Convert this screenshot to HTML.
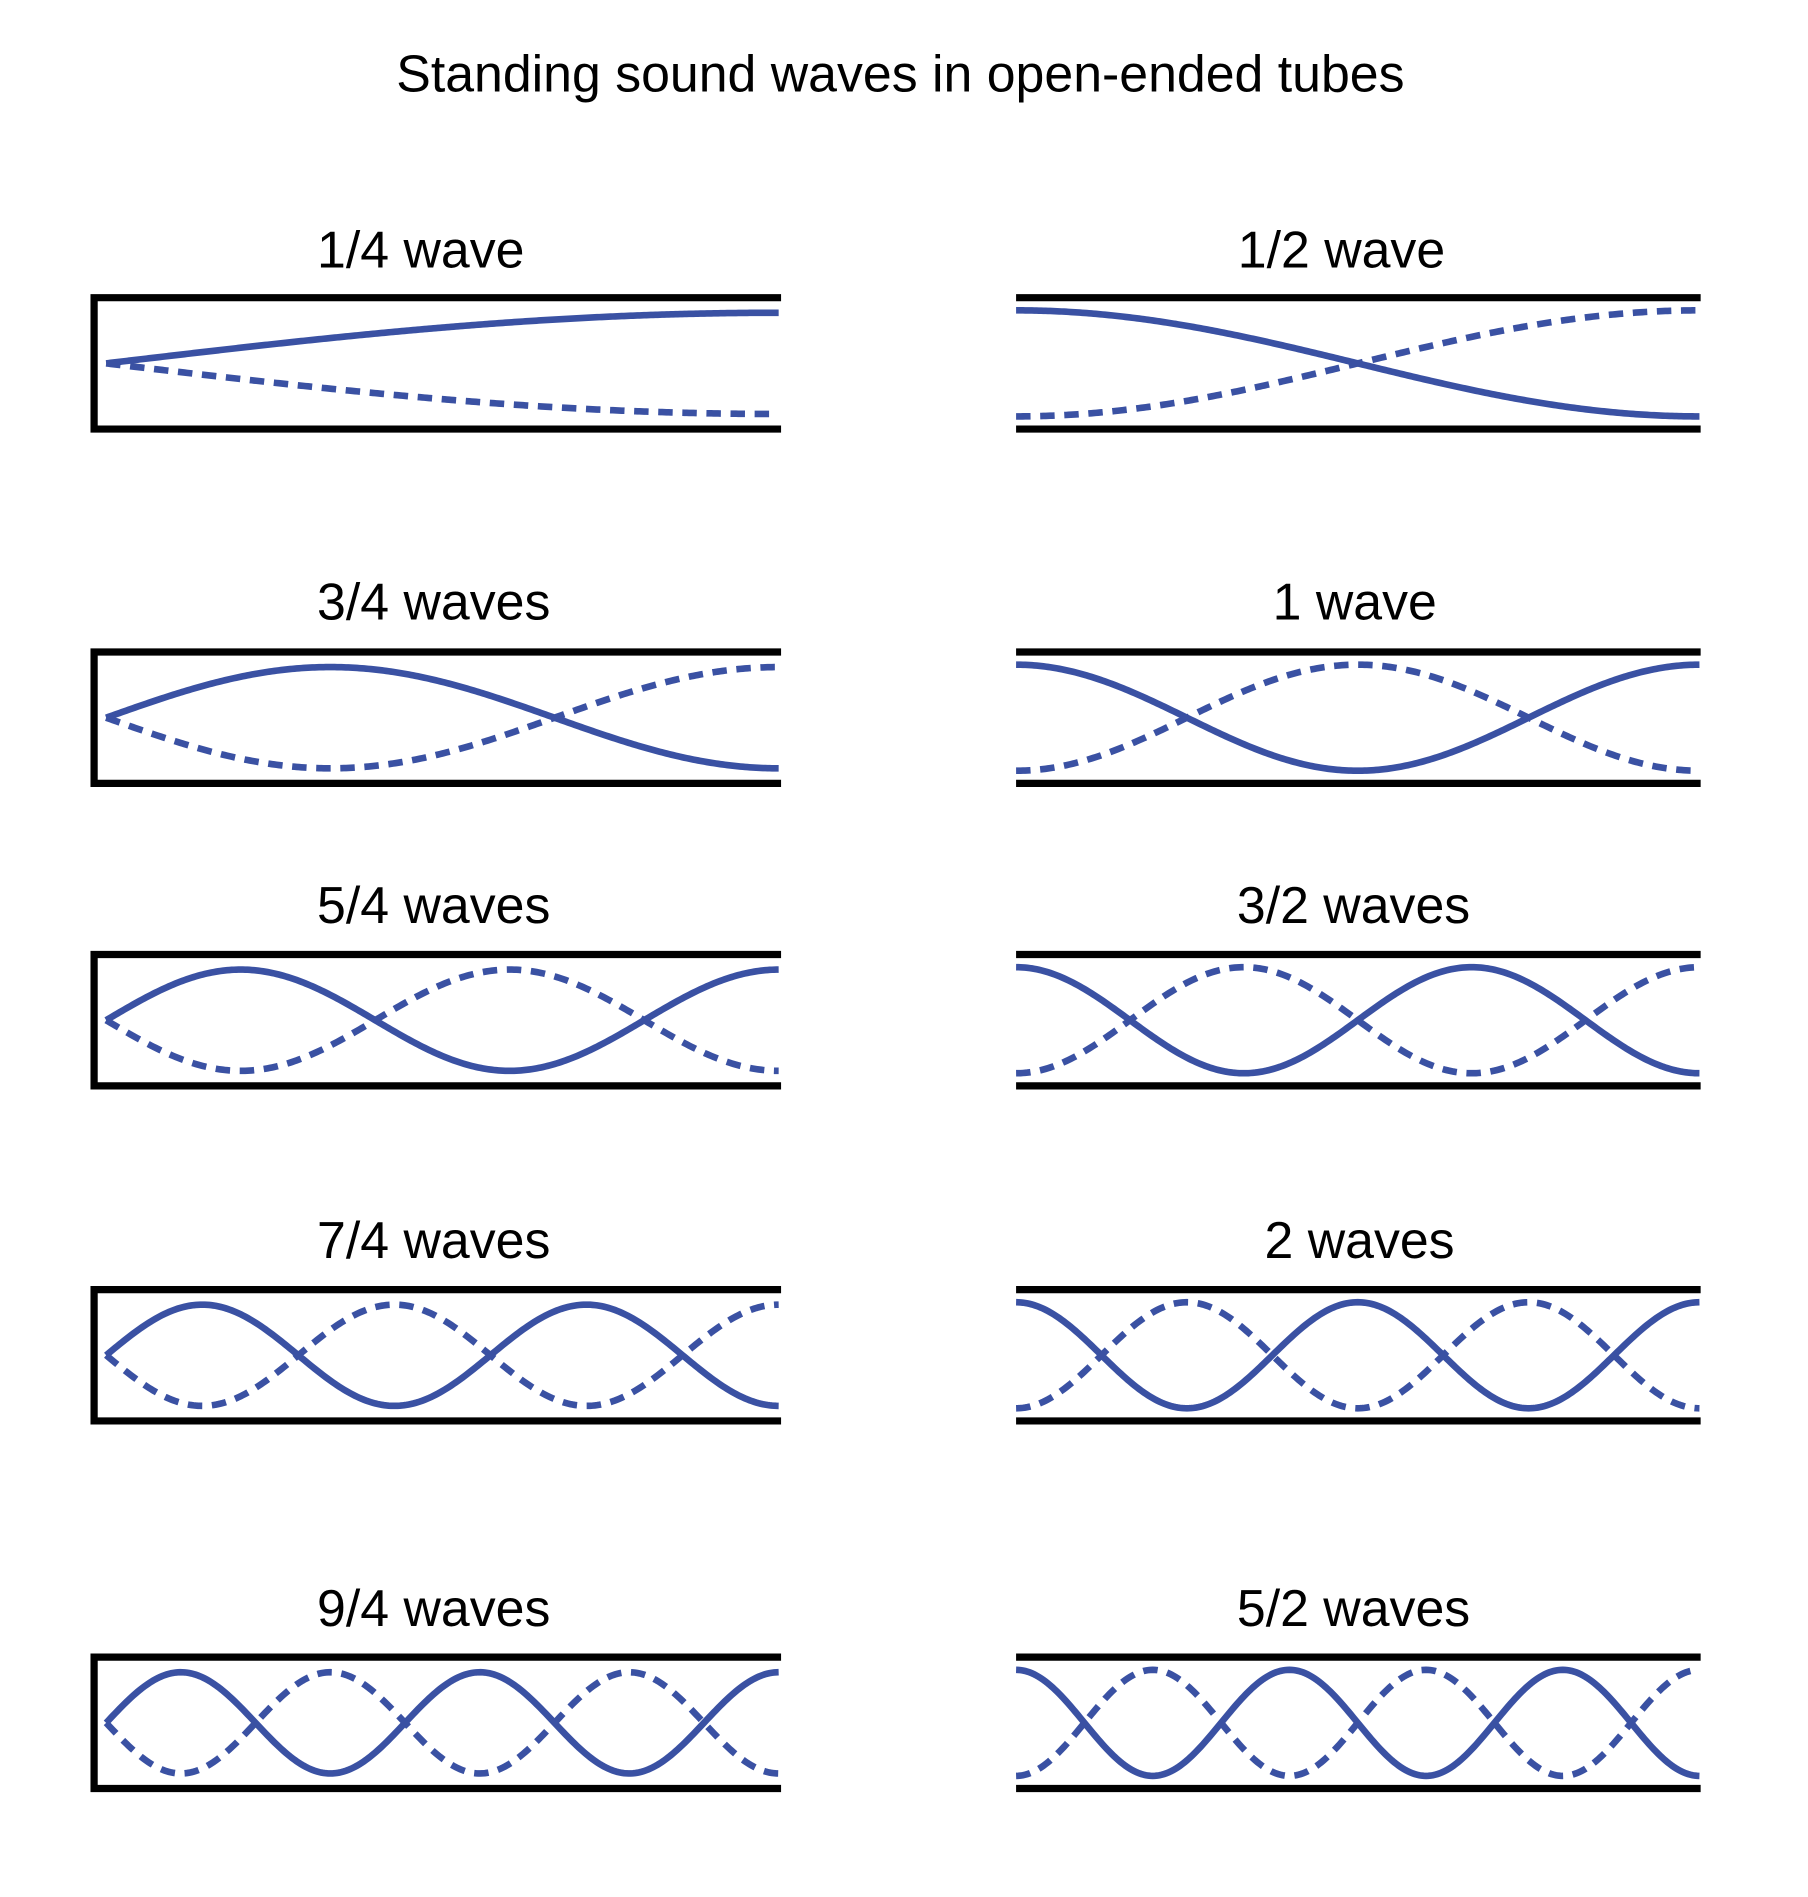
<!DOCTYPE html>
<html><head><meta charset="utf-8"><style>
html,body{margin:0;padding:0;background:#fff;}
svg{display:block;}
text{font-family:"Liberation Sans",Arial,sans-serif;fill:#000;}
</style></head><body>
<svg id="s" width="1808" height="1897" viewBox="0 0 1500 1574" xmlns="http://www.w3.org/2000/svg">
<rect width="1500" height="1574" fill="#fff"/>
<text x="747" y="76" font-size="43" text-anchor="middle">Standing sound waves in open-ended tubes</text>
<text x="263" y="222" font-size="43">1/4 wave</text>
<text x="263" y="514" font-size="43">3/4 waves</text>
<text x="263" y="766" font-size="43">5/4 waves</text>
<text x="263" y="1044" font-size="43">7/4 waves</text>
<text x="263" y="1349" font-size="43">9/4 waves</text>
<text x="1113" y="222" font-size="43" text-anchor="middle">1/2 wave</text>
<text x="1124" y="514" font-size="43" text-anchor="middle">1 wave</text>
<text x="1123" y="766" font-size="43" text-anchor="middle">3/2 waves</text>
<text x="1128" y="1044" font-size="43" text-anchor="middle">2 waves</text>
<text x="1123" y="1349" font-size="43" text-anchor="middle">5/2 waves</text>
<g id="g"></g>
</svg>
<script>
(function(){
var g=document.getElementById('g'),out='';
var tops=[247,541,792,1070,1375];
var C='#3a51a3';
for(var r=0;r<5;r++){
 var t=tops[r],b=t+109,c=(t+b)/2;
 out+='<path d="M648 '+t+' H78 V'+b+' H648" fill="none" stroke="#000" stroke-width="6"/>';
 out+='<path d="M843 '+t+' H1411 M843 '+b+' H1411" fill="none" stroke="#000" stroke-width="6"/>';
 var k=2*r+1,A=42,p1='',p2='';
 for(var i=0;i<=300;i++){var u=i/300,x=88+u*(646-88),y=A*Math.sin(k*Math.PI/2*u);
  p1+=(i?'L':'M')+x.toFixed(2)+' '+(c-y).toFixed(2);p2+=(i?'L':'M')+x.toFixed(2)+' '+(c+y).toFixed(2);}
 out+='<path d="'+p1+'" fill="none" stroke="'+C+'" stroke-width="5.5"/>';
 out+='<path d="'+p2+'" fill="none" stroke="'+C+'" stroke-width="5.5" stroke-dasharray="12 8"/>';
 var n=r+1,B=44;p1='';p2='';
 for(var i=0;i<=300;i++){var u=i/300,x=843+u*(1410-843),y=B*Math.cos(n*Math.PI*u);
  p1+=(i?'L':'M')+x.toFixed(2)+' '+(c-y).toFixed(2);p2+=(i?'L':'M')+x.toFixed(2)+' '+(c+y).toFixed(2);}
 out+='<path d="'+p1+'" fill="none" stroke="'+C+'" stroke-width="5.5"/>';
 out+='<path d="'+p2+'" fill="none" stroke="'+C+'" stroke-width="5.5" stroke-dasharray="12 8"/>';
}
g.innerHTML=out;
})();
</script>
</body></html>
